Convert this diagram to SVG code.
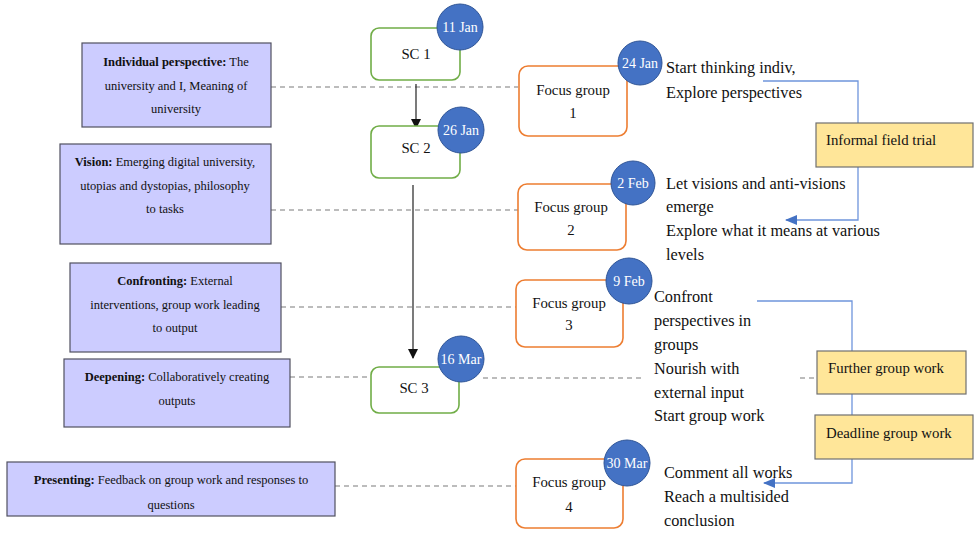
<svg xmlns="http://www.w3.org/2000/svg" width="980" height="534" viewBox="0 0 980 534">
<defs>
<style>
.ph{fill:#ccccff;stroke:#505060;stroke-width:1.2}
.sc{fill:#fff;stroke:#70ad47;stroke-width:1.6}
.fg{fill:#fff;stroke:#ed7d31;stroke-width:1.6}
.yb{fill:#ffe699;stroke:#707070;stroke-width:1.2}
.dt{fill:#4472c4;stroke:#2f5597;stroke-width:1}
text{font-family:'Liberation Serif','Times New Roman','DejaVu Serif',serif}
.t{fill:#111}
.s{font-size:12.5px}
.m{font-size:14.8px}
.r{font-size:16.3px}
.w{font-size:14px;fill:#fff}
.dash{stroke:#a6a6a6;stroke-width:1.3;stroke-dasharray:5 4;fill:none}
.blue{stroke:#6f95dc;stroke-width:1.3;fill:none}
.blk{stroke:#222;stroke-width:1.2;fill:none}
</style>
<marker id="ab" markerWidth="10" markerHeight="10" refX="9" refY="5" orient="auto" markerUnits="userSpaceOnUse"><path d="M0,0 L10,5 L0,10 z" fill="#111"/></marker>
<marker id="au" markerWidth="12" markerHeight="10" refX="11" refY="5" orient="auto" markerUnits="userSpaceOnUse"><path d="M0,0 L12,5 L0,10 z" fill="#4472c4"/></marker>
</defs>
<rect width="980" height="534" fill="#fff"/>

<g id="connectors">
<path class="dash" d="M271,87 H518"/>
<path class="dash" d="M271,210 H518"/>
<path class="dash" d="M281,307 H516"/>
<path class="dash" d="M290,377 H371"/>
<path class="dash" d="M483,378 H643"/>
<path class="dash" d="M800,378 H817"/>
<path class="dash" d="M335,486 H516"/>
<path class="blk" d="M416,84 V128" marker-end="url(#ab)"/>
<path class="blk" d="M413,185 V358" marker-end="url(#ab)"/>
<path class="blue" d="M763,81 H858 V220 H786" marker-end="url(#au)"/>
<path class="blue" d="M757,301 H852 V483 H764" marker-end="url(#au)"/>
</g>

<g id="p1"><rect class="ph" x="82" y="43" width="189" height="84"/>
<text class="t s" text-anchor="middle"><tspan x="176" y="66"><tspan font-weight="bold">Individual perspective:</tspan> The</tspan><tspan x="176" y="90">university and I, Meaning of</tspan><tspan x="176" y="113">university</tspan></text></g>
<g id="p2"><rect class="ph" x="60" y="144" width="211" height="100"/>
<text class="t s" text-anchor="middle"><tspan x="165" y="166"><tspan font-weight="bold">Vision:</tspan> Emerging digital university,</tspan><tspan x="165" y="190">utopias and dystopias, philosophy</tspan><tspan x="165" y="213">to tasks</tspan></text></g>
<g id="p3"><rect class="ph" x="70" y="263" width="211" height="89"/>
<text class="t s" text-anchor="middle"><tspan x="175" y="285"><tspan font-weight="bold">Confronting:</tspan> External</tspan><tspan x="175" y="309">interventions, group work leading</tspan><tspan x="175" y="332">to output</tspan></text></g>
<g id="p4"><rect class="ph" x="64" y="359" width="226" height="68"/>
<text class="t s" text-anchor="middle"><tspan x="177" y="381"><tspan font-weight="bold">Deepening:</tspan> Collaboratively creating</tspan><tspan x="177" y="405">outputs</tspan></text></g>
<g id="p5"><rect class="ph" x="7" y="462" width="328" height="54"/>
<text class="t s" text-anchor="middle"><tspan x="171" y="484"><tspan font-weight="bold">Presenting:</tspan> Feedback on group work and responses to</tspan><tspan x="171" y="509">questions</tspan></text></g>

<g id="sc1"><rect class="sc" x="371" y="28" width="89" height="52" rx="8"/>
<text class="t m" x="416" y="59" text-anchor="middle">SC 1</text>
<circle class="dt" cx="460" cy="27" r="23"/><text class="w" x="460" y="32" text-anchor="middle">11 Jan</text></g>
<g id="sc2"><rect class="sc" x="371" y="126" width="89" height="52" rx="8"/>
<text class="t m" x="416" y="153" text-anchor="middle">SC 2</text>
<circle class="dt" cx="461" cy="130" r="23"/><text class="w" x="461" y="135" text-anchor="middle">26 Jan</text></g>
<g id="sc3"><rect class="sc" x="371" y="367" width="88" height="46" rx="8"/>
<text class="t m" x="414" y="393" text-anchor="middle">SC 3</text>
<circle class="dt" cx="461" cy="359" r="23"/><text class="w" x="461" y="364" text-anchor="middle">16 Mar</text></g>

<g id="fg1"><rect class="fg" x="519" y="66" width="108" height="70" rx="9"/>
<text class="t m" text-anchor="middle"><tspan x="573" y="95">Focus group</tspan><tspan x="573" y="118">1</tspan></text>
<circle class="dt" cx="640" cy="63" r="22"/><text class="w" x="640" y="68" text-anchor="middle">24 Jan</text></g>
<g id="fg2"><rect class="fg" x="518" y="184" width="108" height="66" rx="9"/>
<text class="t m" text-anchor="middle"><tspan x="571" y="212">Focus group</tspan><tspan x="571" y="235">2</tspan></text>
<circle class="dt" cx="633" cy="183" r="22"/><text class="w" x="633" y="188" text-anchor="middle">2 Feb</text></g>
<g id="fg3"><rect class="fg" x="516" y="280" width="107" height="67" rx="9"/>
<text class="t m" text-anchor="middle"><tspan x="569" y="308">Focus group</tspan><tspan x="569" y="330">3</tspan></text>
<circle class="dt" cx="629" cy="281" r="23"/><text class="w" x="629" y="286" text-anchor="middle">9 Feb</text></g>
<g id="fg4"><rect class="fg" x="516" y="459" width="107" height="69" rx="9"/>
<text class="t m" text-anchor="middle"><tspan x="569" y="487">Focus group</tspan><tspan x="569" y="512">4</tspan></text>
<circle class="dt" cx="627" cy="463" r="23"/><text class="w" x="627" y="468" text-anchor="middle">30 Mar</text></g>

<g id="n1"><text class="t r"><tspan x="666" y="73">Start thinking indiv,</tspan><tspan x="666" y="98">Explore perspectives</tspan></text></g>
<g id="n2"><text class="t r"><tspan x="666" y="189">Let visions and anti-visions</tspan><tspan x="666" y="212">emerge</tspan><tspan x="666" y="236">Explore what it means at various</tspan><tspan x="666" y="260">levels</tspan></text></g>
<g id="n3"><text class="t r"><tspan x="654" y="302">Confront</tspan><tspan x="654" y="326">perspectives in</tspan><tspan x="654" y="350">groups</tspan><tspan x="654" y="374">Nourish with</tspan><tspan x="654" y="398">external input</tspan><tspan x="654" y="421">Start group work</tspan></text></g>
<g id="n4"><text class="t r"><tspan x="664" y="478">Comment all works</tspan><tspan x="664" y="502">Reach a multisided</tspan><tspan x="664" y="526">conclusion</tspan></text></g>

<g id="y1"><rect class="yb" x="816" y="123" width="157" height="44"/><text class="t m" x="826" y="145">Informal field trial</text></g>
<g id="y2"><rect class="yb" x="817" y="351" width="149" height="43"/><text class="t m" x="828" y="373">Further group work</text></g>
<g id="y3"><rect class="yb" x="815" y="415" width="158" height="44"/><text class="t m" x="826" y="438">Deadline group work</text></g>
</svg>
